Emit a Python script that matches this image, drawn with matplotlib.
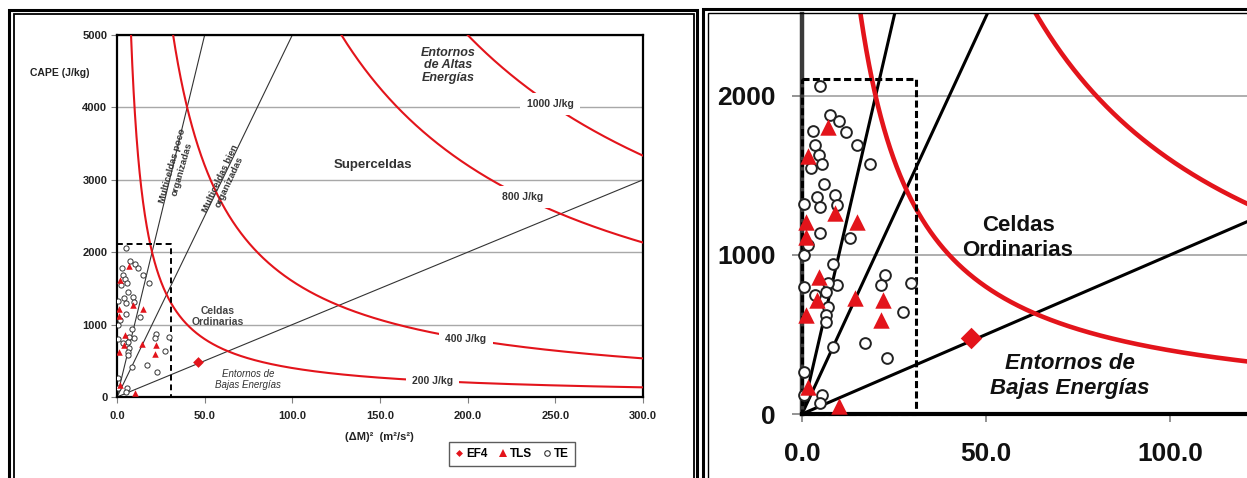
import matplotlib
matplotlib.use('Agg')
import matplotlib.pyplot as plt
import numpy as np
from matplotlib.lines import Line2D

plt.rcParams['font.family'] = ['Liberation Sans', 'DejaVu Sans']

W, H = 1247, 478

# ---------------- data ----------------
energy_levels = [200, 400, 800, 1000]            # J/kg isolines: CAPE * (dM)^2 = E^2
energy_labels = ['200 J/kg', '400 J/kg', '800 J/kg', '1000 J/kg']
energy_label_x = [180, 199, 231.6, 247]
regime_slopes = [100, 50, 10]                    # CAPE / (dM)^2 regime boundaries
box_shear = 31
box_cape = 2110

ef4_shear = [46]
ef4_cape = [480]

tls_shear = [7, 9, 15, 1, 1, 1.5, 4.5, 4, 14.5, 22, 21.5, 1, 1.5, 10]
tls_cape = [1805, 1265, 1210, 1210, 1115, 1620, 860, 720, 730, 720, 590, 620, 170, 50]

te_shear = [5, 7.5, 10, 12, 15, 18.5, 3, 3.5, 4.5, 5.5, 2.5, 6, 4, 9, 5, 9.5, 0.5,
            5, 13, 0.5, 8.5, 9.5, 7, 6.5, 3.5, 0.5, 7, 6.5, 6.5, 8.5, 22.5, 21.5,
            29.5, 27.5, 17, 23, 0.5, 5.5, 5, 0.5, 1.5]
te_cape = [2060, 1880, 1840, 1775, 1690, 1570, 1780, 1690, 1630, 1570, 1550, 1445, 1365,
           1375, 1300, 1315, 1320, 1140, 1105, 1000, 945, 810, 825, 765, 750, 800, 675,
           625, 580, 420, 875, 810, 825, 640, 445, 350, 265, 120, 70, 120, 1060]

x_ticks_left = [0, 50, 100, 150, 200, 250, 300]
y_ticks_left = [0, 1000, 2000, 3000, 4000, 5000]
x_ticks_right = [0, 50, 100]
y_ticks_right = [0, 1000, 2000]

RED = '#E3141B'
GRID = '#A8A8A8'

fig = plt.figure(figsize=(W / 100, H / 100), dpi=100)

# ---------------- left panel ----------------
ax1 = fig.add_axes([117 / W, (H - 397) / H, 526 / W, 362 / H])
ax1.set_xlim(0, 300)
ax1.set_ylim(0, 5000)
ax1.set_yticks(y_ticks_left)
ax1.set_xticks(x_ticks_left)
ax1.set_xticklabels([f'{v:.1f}' for v in x_ticks_left])
ax1.yaxis.grid(True, color=GRID, lw=1.0, zorder=0)
ax1.set_axisbelow(True)
for s in ax1.spines.values():
    s.set_linewidth(1.6)
    s.set_color('black')
ax1.tick_params(axis='y', length=4, color='#808080', pad=3, labelsize=8)
ax1.tick_params(axis='x', length=4, color='#808080', pad=6, labelsize=8)
for lab in ax1.get_xticklabels() + ax1.get_yticklabels():
    lab.set_fontweight('bold')
    lab.set_color('#222222')

xx = np.linspace(0.01, 300, 2000)
for E in energy_levels:
    ax1.plot(xx, E ** 2 / xx, color=RED, lw=1.5, zorder=3)
for m in regime_slopes:
    ax1.plot([0, 300], [0, 300 * m], color='#333333', lw=0.8, zorder=2)
ax1.plot([0, box_shear, box_shear, 0, 0], [box_cape, box_cape, 0, 0, box_cape],
         color='black', lw=1.4, ls=(0, (3, 2)), zorder=4)

ax1.scatter(te_shear, te_cape, s=14, facecolor='white', edgecolor='#333333', lw=0.7, zorder=5)
ax1.scatter(tls_shear, tls_cape, s=22, marker='^', color=RED, lw=0, zorder=6)
ax1.scatter(ef4_shear, ef4_cape, s=30, marker='D', color=RED, lw=0, zorder=7)

for lab, xl, E in zip(energy_labels, energy_label_x, energy_levels):
    ax1.text(xl, E ** 2 / xl, lab, fontsize=7.5, fontweight='bold', color='#333333',
             ha='center', va='center', zorder=8,
             bbox=dict(boxstyle='square,pad=0.6', fc='white', ec='none'))

ax1.text(146, 3200, 'Superceldas', fontsize=9.5, fontweight='bold', color='#333333',
         ha='center', va='center', zorder=8)
ax1.text(188.8, 4579, 'Entornos\nde Altas\nEnergías', fontsize=9, fontweight='bold',
         fontstyle='italic', color='#333333', ha='center', va='center', linespacing=1.1, zorder=8)
ax1.text(57.6, 1110, 'Celdas\nOrdinarias', fontsize=7.5, fontweight='bold', color='#444444',
         ha='center', va='center', linespacing=1.2, zorder=8)
ax1.text(74.7, 241, 'Entornos de\nBajas Energías', fontsize=7, fontstyle='italic',
         color='#333333', ha='center', va='center', linespacing=1.2, zorder=8)
ax1.text(34.2, 3172, 'Multiceldas poco\norganizadas', fontsize=6.8, fontweight='bold',
         color='#333333', ha='center', va='center', rotation=74, rotation_mode='anchor',
         multialignment='center', linespacing=1.1, zorder=8)
ax1.text(61.6, 2993, 'Multiceldas bien\norganizadas', fontsize=6.8, fontweight='bold',
         color='#333333', ha='center', va='center', rotation=65, rotation_mode='anchor',
         multialignment='center', linespacing=1.1, zorder=8)

fig.text(60 / W, (H - 73) / H, 'CAPE (J/kg)', fontsize=7.5, fontweight='bold',
         color='#222222', ha='center', va='center')
fig.text(379 / W, (H - 437) / H, '(ΔM)²  (m²/s²)', fontsize=8, fontweight='bold',
         color='#222222', ha='center', va='center')

handles = [
    Line2D([], [], ls='none', marker='D', ms=3.5, color=RED, mew=0),
    Line2D([], [], ls='none', marker='^', ms=6, color=RED, mew=0),
    Line2D([], [], ls='none', marker='o', ms=4, mfc='white', mec='#333333', mew=0.8),
]
leg = fig.legend(handles, ['EF4', 'TLS', 'TE'], loc='center',
                 bbox_to_anchor=(512 / W, (H - 454) / H), ncol=3, frameon=True,
                 fancybox=False, edgecolor='#333333', handlelength=0.7,
                 handletextpad=0.25, columnspacing=0.9, borderpad=0.5,
                 prop={'weight': 'bold', 'size': 8.5})
leg.get_frame().set_linewidth(1.0)

# ---------------- right panel (zoom) ----------------
x0px, pxx, y0px, pxy = 802, 3.68, 414, 0.159
ax_left_px, ax_top_px = 708, 14
xmin = (ax_left_px - x0px) / pxx
xmax = (W - x0px) / pxx
ymin = (y0px - H) / pxy
ymax = (y0px - ax_top_px) / pxy

ax2 = fig.add_axes([ax_left_px / W, 0, (W - ax_left_px) / W, (H - ax_top_px) / H])
ax2.set_xlim(xmin, xmax)
ax2.set_ylim(ymin, ymax)
ax2.patch.set_alpha(0)
ax2.spines['top'].set_visible(False)
ax2.spines['right'].set_visible(False)
ax2.spines['left'].set_position(('data', 0))
ax2.spines['bottom'].set_position(('data', 0))
ax2.spines['left'].set_bounds(0, ymax)
ax2.spines['bottom'].set_bounds(0, xmax)
ax2.spines['left'].set_linewidth(3.2)
ax2.spines['left'].set_color('#3A3A3A')
ax2.spines['bottom'].set_linewidth(3.0)
ax2.spines['bottom'].set_color('black')
ax2.set_xticks(x_ticks_right)
ax2.set_xticklabels([f'{v:.1f}' for v in x_ticks_right])
ax2.set_yticks(y_ticks_right)
ax2.tick_params(axis='y', length=7, color='#808080', width=1.2, pad=12, labelsize=19)
ax2.tick_params(axis='x', length=6, color='#808080', width=1.2, pad=14, labelsize=19)
for lab in ax2.get_xticklabels() + ax2.get_yticklabels():
    lab.set_fontweight('bold')
    lab.set_color('#111111')
ax2.hlines(y_ticks_right[1:], 0, xmax, color=GRID, lw=1.3, zorder=0)

xr = np.linspace(0.5, xmax, 2000)
for E in energy_levels:
    ax2.plot(xr, E ** 2 / xr, color=RED, lw=3.3, zorder=3)
for m in regime_slopes:
    ax2.plot([0, xmax], [0, xmax * m], color='black', lw=2.2, zorder=2)
ax2.plot([0, box_shear, box_shear, 0, 0], [box_cape, box_cape, 0, 0, box_cape],
         color='black', lw=2.2, ls=(0, (2.3, 1.1)), zorder=4)

ax2.scatter(te_shear, te_cape, s=60, facecolor='white', edgecolor='#222222', lw=1.4, zorder=5)
ax2.scatter(tls_shear, tls_cape, s=140, marker='^', color=RED, lw=0, zorder=6)
ax2.scatter(ef4_shear, ef4_cape, s=120, marker='D', color=RED, lw=0, zorder=7)

ax2.text(58.7, 1107, 'Celdas\nOrdinarias', fontsize=16, fontweight='bold', color='#111111',
         ha='center', va='center', linespacing=1.2, zorder=8)
ax2.text(72.8, 239, 'Entornos de\nBajas Energías', fontsize=16, fontweight='bold',
         fontstyle='italic', color='#111111', ha='center', va='center', linespacing=1.2, zorder=8)

# ---------------- panel frames (decoration) ----------------
ov = fig.add_axes([0, 0, 1, 1], zorder=20)
ov.set_xlim(0, W)
ov.set_ylim(H, 0)
ov.axis('off')
ov.patch.set_alpha(0)
bot = H + 10
ov.plot([9, 9, 697, 697], [bot, 9.5, 9.5, bot], color='black', lw=2.2, solid_joinstyle='miter')
ov.plot([13.5, 13.5, 694, 694], [bot, 14, 14, bot], color='black', lw=1.3, solid_joinstyle='miter')
ov.plot([703, 703, W + 10], [bot, 9, 9], color='black', lw=2.2, solid_joinstyle='miter')
ov.plot([707.5, 707.5, W + 10], [bot, 13, 13], color='black', lw=1.0, solid_joinstyle='miter')

fig.savefig('out.png', dpi=100)
